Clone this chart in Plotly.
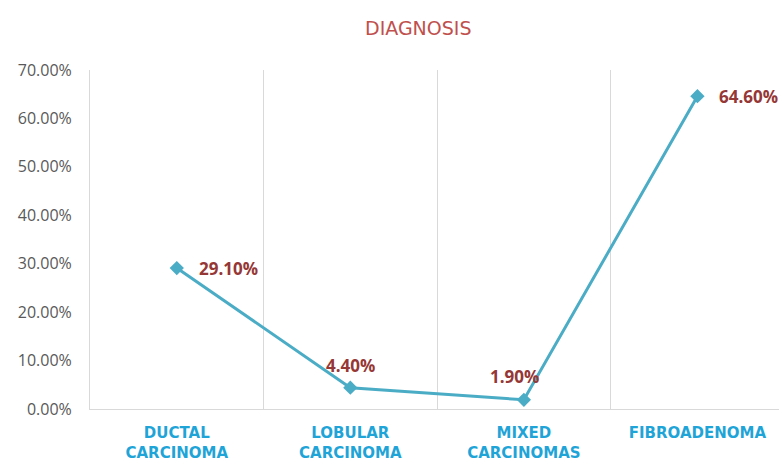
import plotly.graph_objects as go

categories = ["DUCTAL<br>CARCINOMA", "LOBULAR<br>CARCINOMA", "MIXED<br>CARCINOMAS", "FIBROADENOMA"]
values = [29.10, 4.40, 1.90, 64.60]
y_ticks = [0, 10, 20, 30, 40, 50, 60, 70]

# label placement per point: (xanchor, xshift, yshift)
label_offsets = [("left", 20, 0), ("center", 0, 22), ("center", -9, 23), ("left", 20, 0)]

x_idx = list(range(len(categories)))

fig = go.Figure()
fig.add_trace(go.Scatter(
    x=x_idx,
    y=values,
    mode="lines+markers",
    line=dict(color="#4bacc6", width=3),
    marker=dict(symbol="diamond", size=11, color="#4bacc6"),
    cliponaxis=False,
    hoverinfo="skip",
))

annotations = [dict(
    text="DIAGNOSIS",
    xref="paper", yref="paper",
    x=(418 - 90) / 689, y=1,
    yanchor="middle",
    yshift=42,
    showarrow=False,
    font=dict(family="DejaVu Sans", size=19, color="#c0504d"),
)]
for xi, v, (anchor, dx, dy) in zip(x_idx, values, label_offsets):
    annotations.append(dict(
        x=xi, y=v, xref="x", yref="y",
        text=f"<b>{v:.2f}%</b>",
        showarrow=False,
        xanchor=anchor, yanchor="middle",
        xshift=dx, yshift=dy,
        font=dict(family="Open Sans", size=17, color="#953735"),
    ))

fig.update_layout(
    width=779,
    height=462,
    margin=dict(l=90, r=0, t=70, b=53),
    paper_bgcolor="white",
    plot_bgcolor="white",
    showlegend=False,
    font=dict(family="Open Sans"),
    annotations=annotations,
)

fig.update_xaxes(
    range=[-0.5, 3.47],
    tickvals=x_idx,
    ticktext=[f"<b>{c}</b>" for c in categories],
    tickfont=dict(family="DejaVu Sans", size=15, color="#1fa4d8"),
    showgrid=False,
    zeroline=False,
    showline=True,
    linecolor="#d9d9d9",
    linewidth=1,
    ticks="",
    ticklabelstandoff=10,
    minor=dict(tickvals=[0.5, 1.5, 2.5], showgrid=True, gridcolor="#d9d9d9", gridwidth=1),
)

fig.update_yaxes(
    range=[0, 70],
    tickvals=y_ticks,
    ticktext=[f"{t:.2f}%" for t in y_ticks],
    tickfont=dict(family="Open Sans", size=16, color="#595959"),
    showgrid=False,
    zeroline=False,
    showline=True,
    linecolor="#d9d9d9",
    linewidth=1,
    ticks="",
    ticklabelstandoff=14,
)

fig.write_html("out.html")
